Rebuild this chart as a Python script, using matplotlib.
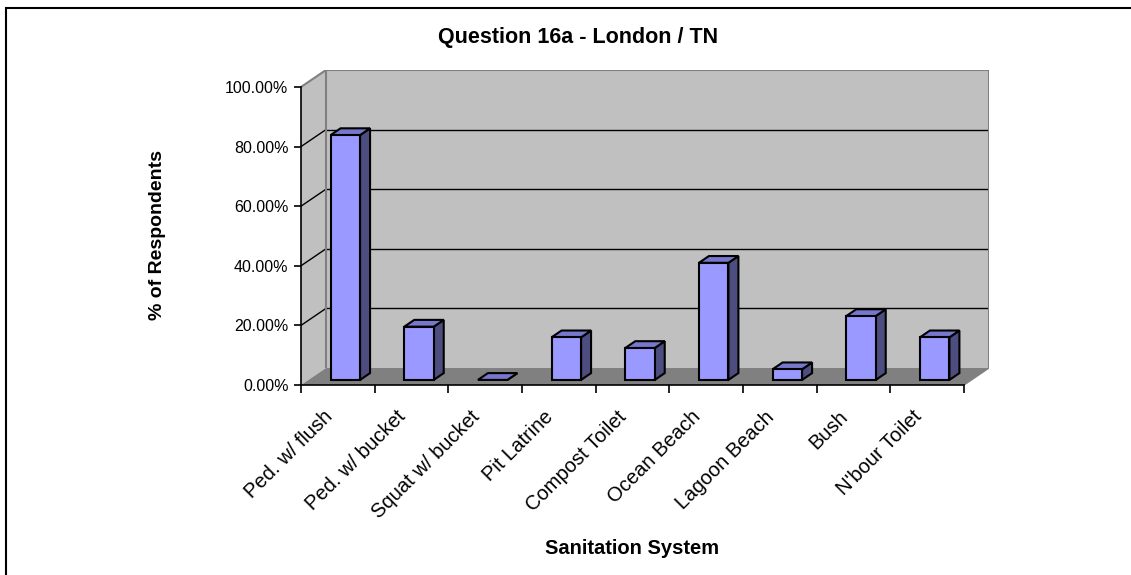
"""Question 16a (London / TN): sanitation system used, drawn as Excel-style 3-D columns."""

import matplotlib
matplotlib.use("Agg")
import matplotlib.pyplot as plt
from matplotlib.patches import Polygon, Rectangle

plt.rcParams["font.family"] = ["Liberation Sans", "DejaVu Sans"]

CATEGORIES = ["Ped. w/ flush", "Ped. w/ bucket", "Squat w/ bucket", "Pit Latrine",
              "Compost Toilet", "Ocean Beach", "Lagoon Beach", "Bush", "N'bour Toilet"]
PCT_RESPONDENTS = [82.14, 17.86, 0.0, 14.29, 10.71, 39.29, 3.57, 21.43, 14.29]
Y_TICKS = [0, 20, 40, 60, 80, 100]

TITLE = "Question 16a - London / TN"
X_TITLE = "Sanitation System"
Y_TITLE = "% of Respondents"

# fake-3D geometry (data units): depth shift of the back wall, bar width/depth
W, H = 1131, 575
DX, DY = 0.339, 5.7
BAR_W = 0.40
D_FRONT, D_BACK = 0.30, 0.70

WALL = "#C0C0C0"
FLOOR = "#808080"
FACE = "#9999FF"
TOP = "#7777CC"
SIDE = "#4D4D80"


def px_box(left, top, right, bottom):
    return [left / W, 1 - bottom / H, (right - left) / W, (bottom - top) / H]


fig = plt.figure(figsize=(W / 100, H / 100), dpi=100)
ax = fig.add_axes(px_box(301, 70, 989, 385))
n = len(CATEGORIES)
ax.set_xlim(0, n + DX)
ax.set_ylim(0, 100 + DY)
ax.set_facecolor("none")

# walls and floor
ax.add_patch(Polygon([(0, 0), (0, 100), (DX, 100 + DY), (DX, DY)],
                     closed=True, fc=WALL, ec="none", zorder=0))
ax.add_patch(Rectangle((DX, DY), n, 100, fc=WALL, ec="none", zorder=0))
ax.add_patch(Polygon([(0, 0), (n, 0), (n + DX, DY), (DX, DY)],
                     closed=True, fc=FLOOR, ec="none", zorder=0))

# gridlines on the back wall and the side wall
for v in Y_TICKS[1:-1]:
    ax.plot([DX, n + DX], [v + DY, v + DY], color="black", lw=1, zorder=1)
    ax.plot([0, DX], [v, v + DY], color="black", lw=1, zorder=1)
edge = dict(color="#808080", lw=1.5, zorder=1, solid_capstyle="butt")
ax.plot([0, DX, n + DX, n + DX], [100, 100 + DY, 100 + DY, DY], **edge)
ax.plot([DX, DX], [DY, 100 + DY], **edge)
ax.plot([n, n + DX], [0, DY], color="#808080", lw=1, zorder=1)

# columns
dx_d, dy_d = (D_BACK - D_FRONT) * DX, (D_BACK - D_FRONT) * DY
for i, v in enumerate(PCT_RESPONDENTS):
    x0 = i + 0.5 - BAR_W / 2 + D_FRONT * DX
    y0 = D_FRONT * DY
    x1, y1 = x0 + BAR_W, y0 + v
    style = dict(closed=True, ec="black", lw=1.5, joinstyle="miter", zorder=3)
    ax.add_patch(Polygon([(x1, y0), (x1, y1), (x1 + dx_d, y1 + dy_d), (x1 + dx_d, y0 + dy_d)],
                         fc=SIDE, **style))
    ax.add_patch(Polygon([(x0, y1), (x1, y1), (x1 + dx_d, y1 + dy_d), (x0 + dx_d, y1 + dy_d)],
                         fc=TOP, **style))
    if v > 0:
        ax.add_patch(Polygon([(x0, y0), (x1, y0), (x1, y1), (x0, y1)], fc=FACE, **style))

# axes lines and ticks
for s in ["top", "right"]:
    ax.spines[s].set_visible(False)
ax.spines["left"].set_bounds(0, 100)
ax.spines["bottom"].set_bounds(0, n)
for s in ["left", "bottom"]:
    ax.spines[s].set_linewidth(1.2)
    ax.spines[s].set_zorder(4)

ax.set_yticks(Y_TICKS)
ax.set_yticklabels([f"{t:.2f}%" for t in Y_TICKS])
ax.tick_params(axis="y", direction="out", length=5, width=1.2, pad=4, labelsize=11.5)

ax.set_xticks(range(n + 1))
ax.set_xticklabels([])
ax.tick_params(axis="x", which="major", direction="out", length=6, width=1.2)

# slanted category labels, their top-right end just below each slot
for i, name in enumerate(CATEGORIES):
    ax.annotate(name, xy=(i + 0.5, 0), xytext=(-11, -16), textcoords="offset points",
                rotation=45, ha="right", va="top", rotation_mode="anchor",
                fontsize=14.5, annotation_clip=False)

# titles
fig.text(578 / W, 1 - 38 / H, TITLE, ha="center", va="center",
         fontsize=15.5, fontweight="bold")
fig.text(158 / W, 1 - 235 / H, Y_TITLE, ha="center", va="center", rotation=90,
         fontsize=14, fontweight="bold")
fig.text(632 / W, 1 - 548 / H, X_TITLE, ha="center", va="center",
         fontsize=14.5, fontweight="bold")

# chart-area frame (runs off the right and bottom edges)
fig.add_artist(Rectangle((6 / W, -0.1), 1.0, 1 - 8 / H + 0.1, transform=fig.transFigure,
                         fill=False, ec="black", lw=1.5))

fig.savefig("out.png", dpi=100)
